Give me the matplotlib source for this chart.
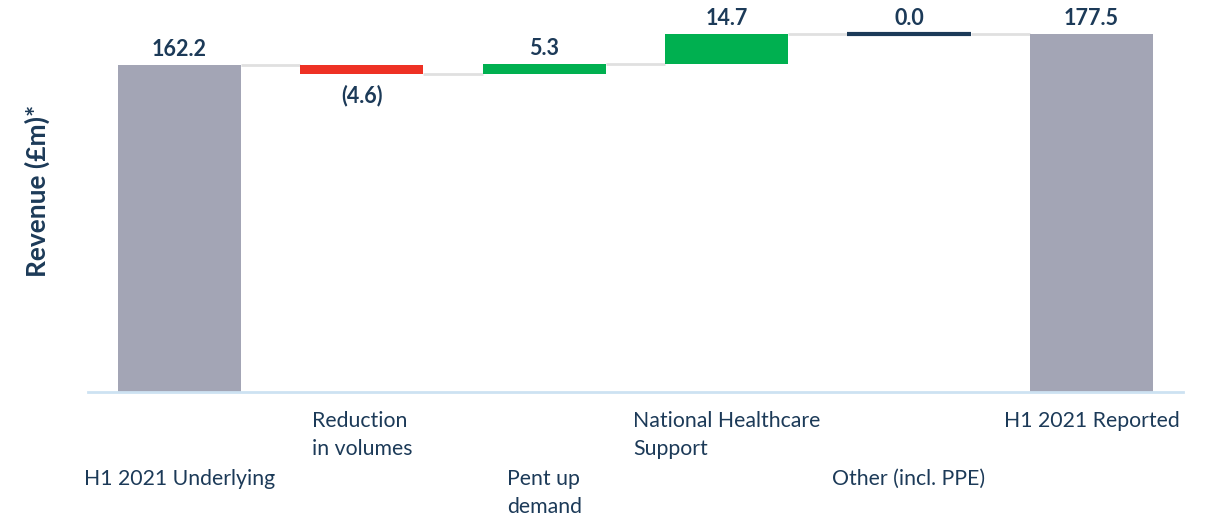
import matplotlib.pyplot as plt

categories = [
    "H1 2021 Underlying",
    "Reduction\nin volumes",
    "Pent up\ndemand",
    "National Healthcare\nSupport",
    "Other (incl. PPE)",
    "H1 2021 Reported",
]
values = [162.2, -4.6, 5.3, 14.7, 0.0, 177.5]
is_total = [True, False, False, False, False, True]
value_labels = ["162.2", "(4.6)", "5.3", "14.7", "0.0", "177.5"]
label_row = [1, 0, 1, 0, 1, 0]  # 0 = upper row, 1 = lower row

GREY = "#a3a5b5"
RED = "#ee3124"
GREEN = "#00b050"
NAVY = "#1c3a58"
CONNECT = "#e0e0e0"
BASE = "#cde2f2"

plt.rcParams["font.family"] = ["Lato", "DejaVu Sans"]

fig = plt.figure(figsize=(12.08, 5.25), dpi=100)
ax = fig.add_axes([0.073, 0.253, 0.906, 0.707])

width = 0.675
running = 0.0
ends = []
for i, (v, tot) in enumerate(zip(values, is_total)):
    if tot:
        ax.bar(i, v, width=width, bottom=0, color=GREY, zorder=2)
        top, bottom = v, 0
        running = v
    elif v == 0:
        ax.hlines(running, i - width / 2, i + width / 2, color=NAVY, lw=3, zorder=3)
        top = bottom = running
    else:
        color = GREEN if v > 0 else RED
        ax.bar(i, v, width=width, bottom=running, color=color, zorder=2)
        top = max(running, running + v)
        bottom = min(running, running + v)
        running += v
    ends.append(running)

    if v < 0:
        ax.annotate(value_labels[i], (i, bottom), xytext=(0, -10), textcoords="offset pixels",
                    ha="center", va="top", fontsize=15.5, fontweight="bold", color=NAVY)
    else:
        ax.annotate(value_labels[i], (i, top), xytext=(0, 5), textcoords="offset pixels",
                    ha="center", va="bottom", fontsize=15.5, fontweight="bold", color=NAVY)

# connector lines between bars
for i in range(len(values) - 1):
    ax.hlines(ends[i], i + width / 2, i + 1 - width / 2, color=CONNECT, lw=2, zorder=1)

# staggered category labels
for i, label in enumerate(categories):
    offset = -19 if label_row[i] == 0 else -77
    ax.annotate(label, (i, 0), xycoords=("data", "axes fraction"), xytext=(0, offset),
                textcoords="offset pixels", ha="center", va="top", multialignment="left",
                fontsize=15.3, color=NAVY, linespacing=1.5)

ax.set_xlim(-0.5, 5.5)
ax.set_ylim(0, 184)
ax.set_xticks([])
ax.set_yticks([])
for side in ["top", "right", "left"]:
    ax.spines[side].set_visible(False)
ax.spines["bottom"].set_color(BASE)
ax.spines["bottom"].set_linewidth(2)

fig.text(0.031, 0.636, "Revenue (£m)*", rotation=90, ha="center", va="center",
         fontsize=19, fontweight="bold", color=NAVY)

fig.savefig("out.png", dpi=100)
